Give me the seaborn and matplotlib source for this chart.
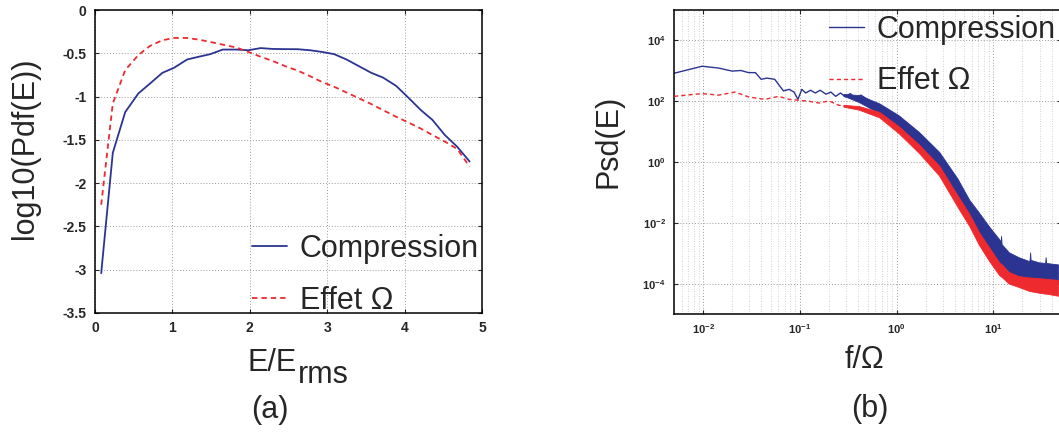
import numpy as np
import pandas as pd
import matplotlib
matplotlib.use("Agg")
import matplotlib.pyplot as plt
import seaborn as sns
from matplotlib.ticker import FixedLocator, LogLocator, NullFormatter

# ===== (a) log10 of the pdf of E/Erms =====
e_norm = [0.08, 0.23, 0.39, 0.56, 0.71, 0.87, 1.02, 1.19, 1.34, 1.49, 1.65,
          1.83, 1.98, 2.14, 2.30, 2.46, 2.62, 2.78, 2.93, 3.09, 3.25, 3.41,
          3.57, 3.72, 3.89, 4.05, 4.21, 4.36, 4.52, 4.68, 4.84]
pdf_compression = [-3.04, -1.65, -1.18, -0.964, -0.85, -0.726, -0.668, -0.572,
                   -0.54, -0.51, -0.457, -0.457, -0.465, -0.44, -0.45, -0.452,
                   -0.453, -0.465, -0.484, -0.51, -0.572, -0.649, -0.726, -0.78,
                   -0.876, -1.014, -1.156, -1.27, -1.444, -1.58, -1.75]
pdf_effet = [-2.25, -1.08, -0.695, -0.52, -0.415, -0.35, -0.323, -0.323, -0.342,
             -0.369, -0.40, -0.434, -0.484, -0.54, -0.59, -0.65, -0.70, -0.765,
             -0.83, -0.887, -0.953, -1.02, -1.087, -1.156, -1.233, -1.30, -1.37,
             -1.444, -1.52, -1.605, -1.81]
a_yticks = [-3.5, -3, -2.5, -2, -1.5, -1, -0.5, 0]
a_yticklabels = ["-3.5", "-3", "-2.5", "-2", "-1.5", "-1", "-0.5", "0"]
a_xticks = [0, 1, 2, 3, 4, 5]

# ===== (b) PSD of E (log10 of f/Omega and of Psd) =====
logf_comp = [-2.30, -2.01, -1.84, -1.70, -1.61, -1.53, -1.46, -1.40, -1.34, -1.26,
             -1.17, -1.11, -1.06, -1.02, -0.98, -0.94, -0.89, -0.84, -0.79, -0.73,
             -0.68, -0.63, -0.58, -0.53, -0.48, -0.42, -0.37, -0.30, -0.18, 0.02,
             0.23, 0.44, 0.63, 0.75, 0.85, 0.955, 1.06, 1.16, 1.26, 1.37, 1.47, 1.67]
logpsd_comp = [2.92, 3.15, 3.09, 2.99, 3.01, 2.94, 2.94, 2.72, 2.76, 2.72,
               2.34, 2.39, 2.30, 2.06, 2.39, 2.27, 2.36, 2.27, 2.36, 2.23,
               2.30, 2.16, 2.27, 2.14, 2.25, 2.09, 2.20, 2.06, 1.77, 1.33,
               0.72, 0.04, -0.90, -1.56, -2.05, -2.55, -2.98, -3.36, -3.49, -3.59,
               -3.61, -3.67]
logf_eff = [-2.30, -2.01, -1.84, -1.67, -1.53, -1.36, -1.22, -1.11, -1.01, -0.91,
            -0.80, -0.70, -0.60, -0.49, -0.39, -0.30, -0.18, 0.02, 0.23, 0.44,
            0.63, 0.75, 0.85, 0.955, 1.06, 1.16, 1.26, 1.37, 1.47, 1.67]
logpsd_eff = [2.16, 2.25, 2.20, 2.30, 2.14, 2.06, 2.16, 2.06, 2.03, 2.00,
              1.94, 2.01, 1.87, 1.81, 1.76, 1.72, 1.56, 1.06, 0.44, -0.28,
              -1.29, -1.90, -2.51, -3.02, -3.51, -3.81, -3.93, -4.02, -4.05, -4.14]

# noisy band (lower / upper envelope) at high frequency
logf_band = [-0.55, -0.39, -0.18, 0.02, 0.23, 0.44, 0.63, 0.75, 0.85, 0.955,
             1.06, 1.075, 1.08, 1.085, 1.16, 1.26, 1.37, 1.375, 1.38, 1.385,
             1.47, 1.535, 1.54, 1.545, 1.67]
comp_lo = [2.18, 1.97, 1.61, 1.12, 0.46, -0.25, -1.25, -1.89, -2.44, -2.97,
           -3.42, -3.47, -3.49, -3.51, -3.75, -3.85, -3.92, -3.92, -3.92, -3.92,
           -3.92, -3.94, -3.94, -3.94, -3.97]
comp_hi = [2.24, 2.20, 1.93, 1.54, 0.99, 0.33, -0.55, -1.24, -1.66, -2.12,
           -2.54, -2.62, -2.44, -2.70, -2.97, -3.13, -3.26, -3.20, -2.97, -3.22,
           -3.30, -3.32, -3.13, -3.32, -3.37]
eff_lo = [1.82, 1.72, 1.47, 0.95, 0.30, -0.45, -1.48, -2.10, -2.72, -3.25,
          -3.72, -3.76, -3.77, -3.78, -4.00, -4.11, -4.24, -4.24, -4.25, -4.25,
          -4.30, -4.33, -4.33, -4.33, -4.40]
eff_hi = [1.88, 1.84, 1.65, 1.18, 0.58, -0.12, -1.10, -1.70, -2.30, -2.80,
          -3.30, -3.34, -3.35, -3.36, -3.62, -3.75, -3.80, -3.80, -3.80, -3.80,
          -3.82, -3.84, -3.84, -3.84, -3.88]
b_yticks = [1e-4, 1e-2, 1e0, 1e2, 1e4]
b_yticklabels = [r"$\mathbf{10^{-4}}$", r"$\mathbf{10^{-2}}$", r"$\mathbf{10^{0}}$",
                 r"$\mathbf{10^{2}}$", r"$\mathbf{10^{4}}$"]
b_xticks = [1e-2, 1e-1, 1e0, 1e1]
b_xticklabels = [r"$\mathbf{10^{-2}}$", r"$\mathbf{10^{-1}}$", r"$\mathbf{10^{0}}$",
                 r"$\mathbf{10^{1}}$"]

BLUE = "#2b3491"
RED = "#ee2a2e"

sns.set_style("ticks")
plt.rcParams["font.family"] = ["Liberation Sans", "DejaVu Sans"]
plt.rcParams["mathtext.fontset"] = "custom"
plt.rcParams["mathtext.rm"] = "Liberation Sans"
plt.rcParams["mathtext.bf"] = "Liberation Sans:bold"

W, H = 1059, 432
fig = plt.figure(figsize=(W / 100, H / 100), dpi=100)
ax1 = fig.add_axes([95 / W, 1 - 313 / H, 387 / W, 303 / H])
ax2 = fig.add_axes([674 / W, 1 - 314 / H, 387 / W, 304 / H])

grid_kw = dict(color="#9a9a9a", linestyle=(0, (1, 2)), linewidth=0.7)

# ---- panel (a) ----
df_a = pd.DataFrame({"x": e_norm, "comp": pdf_compression, "eff": pdf_effet})
sns.lineplot(data=df_a, x="x", y="comp", ax=ax1, color=BLUE, lw=1.3,
             label="Compression", estimator=None, sort=False)
sns.lineplot(data=df_a, x="x", y="eff", ax=ax1, color=RED, lw=1.3,
             linestyle=(0, (3, 2.2)), label="Effet \u03a9", estimator=None, sort=False)
ax1.set_xlim(0, 5)
ax1.set_ylim(-3.5, 0)
ax1.xaxis.set_major_locator(FixedLocator(a_xticks))
ax1.set_yticks(a_yticks)
ax1.set_yticklabels(a_yticklabels)
ax1.grid(True, which="major", **grid_kw)
ax1.set_xlabel("")
ax1.set_ylabel("")
ax1.legend(loc="upper left", bbox_to_anchor=(252 / W, 1 - 234 / H),
           bbox_transform=fig.transFigure, frameon=False, fontsize=22,
           handlelength=1.15, handletextpad=0.42, labelspacing=0.71,
           borderpad=0, borderaxespad=0)

# ---- panel (b) ----
ax2.set_xscale("log")
ax2.set_yscale("log")
f_band = 10 ** np.array(logf_band)
ax2.fill_between(f_band, 10 ** np.array(comp_lo), 10 ** np.array(comp_hi),
                 color=BLUE, lw=0.6, edgecolor=BLUE, zorder=2)
ax2.fill_between(f_band, 10 ** np.array(eff_lo), 10 ** np.array(eff_hi),
                 color=RED, lw=0.6, edgecolor=RED, zorder=3)
df_c = pd.DataFrame({"f": 10 ** np.array(logf_comp), "p": 10 ** np.array(logpsd_comp)})
df_e = pd.DataFrame({"f": 10 ** np.array(logf_eff), "p": 10 ** np.array(logpsd_eff)})
sns.lineplot(data=df_c, x="f", y="p", ax=ax2, color=BLUE, lw=1.0,
             label="Compression", estimator=None, sort=False, zorder=2)
sns.lineplot(data=df_e, x="f", y="p", ax=ax2, color=RED, lw=1.0,
             linestyle=(0, (3, 2.2)), label="Effet \u03a9", estimator=None,
             sort=False, zorder=3)
ax2.set_xlim(0.005, 50)
ax2.set_ylim(1e-5, 1e5)
ax2.xaxis.set_major_locator(FixedLocator(b_xticks))
ax2.set_xticklabels(b_xticklabels)
ax2.xaxis.set_minor_locator(LogLocator(base=10, subs=np.arange(2, 10)))
ax2.xaxis.set_minor_formatter(NullFormatter())
ax2.yaxis.set_major_locator(FixedLocator(b_yticks))
ax2.set_yticklabels(b_yticklabels)
ax2.yaxis.set_minor_locator(FixedLocator([]))
ax2.grid(True, which="major", **grid_kw)
ax2.grid(True, which="minor", axis="x", color="#c4c4c4", linestyle=(0, (1, 2)),
         linewidth=0.6)
ax2.set_xlabel("")
ax2.set_ylabel("")
ax2.legend(loc="upper left", bbox_to_anchor=(829 / W, 1 - 15 / H),
           bbox_transform=fig.transFigure, frameon=False, fontsize=22,
           handlelength=1.15, handletextpad=0.42, labelspacing=0.7,
           borderpad=0, borderaxespad=0)

for ax, size in ((ax1, 10), (ax2, 8)):
    ax.set_axisbelow(True)
    for s in ax.spines.values():
        s.set_visible(True)
        s.set_linewidth(1.1)
        s.set_color("black")
    ax.tick_params(which="both", direction="in", top=True, right=True,
                   length=3, width=0.8, pad=6)
    ax.tick_params(which="minor", length=0)
    for lab in ax.get_xticklabels() + ax.get_yticklabels():
        lab.set_fontweight("bold")
        lab.set_fontsize(size)

# ---- axis titles and panel letters ----
fig.text(25 / W, 1 - 148 / H, "log10(Pdf(E))", rotation=90, fontsize=22,
         ha="center", va="center")
fig.text(248 / W, 1 - 371 / H, "E/E", fontsize=22, ha="left", va="baseline")
fig.text(298 / W, 1 - 383 / H, "rms", fontsize=22, ha="left", va="baseline")
fig.text(270 / W, 1 - 410 / H, "(a)", fontsize=22, ha="center", va="center")

fig.text(609 / W, 1 - 141 / H, "Psd(E)", rotation=90, fontsize=22,
         ha="center", va="center")
fig.text(864 / W, 1 - 360 / H, "f/\u03a9", fontsize=22, ha="center", va="center")
fig.text(870 / W, 1 - 409 / H, "(b)", fontsize=22, ha="center", va="center")

fig.savefig("out.png", dpi=100)
